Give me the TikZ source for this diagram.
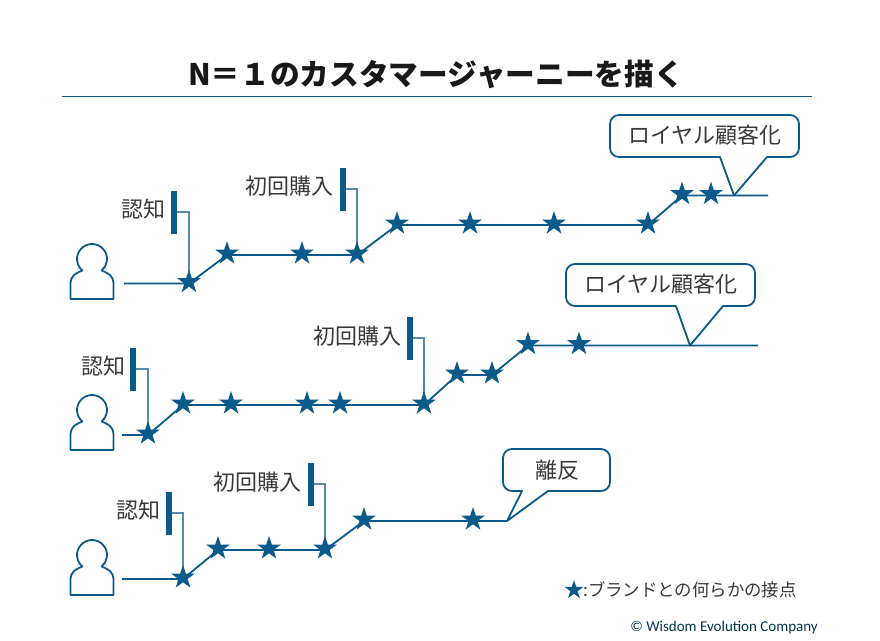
\documentclass[tikz,border=0pt]{standalone}
\usepackage{fontspec}
\setmainfont{Noto Sans CJK JP}
\newfontfamily\latinf{Carlito}
\usetikzlibrary{shapes.geometric}
\definecolor{jblue}{HTML}{0B5A8C}
\definecolor{jtext}{HTML}{3A3A3A}
\tikzset{
  jline/.style={draw=jblue,line width=1.8pt},
  jstar/.style={star,star points=5,star point ratio=2.618,fill=jblue,draw=none,minimum size=25pt,inner sep=0pt,yshift=1.5pt},
  jbar/.style={fill=jblue,draw=none,minimum width=6pt,minimum height=43pt,inner sep=0pt},
  jlead/.style={draw=jblue!70!white,line width=1.2pt},
  jlabel/.style={text=jtext,font=\fontsize{22}{26}\selectfont,inner sep=0pt,anchor=east},
  jcall/.style={draw=jblue,line width=1.8pt,fill=white,line join=round},
  jtxt/.style={text=jtext,font=\fontsize{22}{26}\selectfont,inner sep=0pt},
  jperson/.style={draw=jblue,line width=1.8pt,line join=round}
}
\newcommand{\jpers}[2]{%
  \draw[jperson,shift={(#1,#2)}] (-9.6,11.5) arc[start angle=130,end angle=410,radius=15]
    .. controls (16,14) and (21.5,16.5) .. (21.5,25) -- (21.5,40) -- (-21.5,40) -- (-21.5,25)
    .. controls (-21.5,16.5) and (-16,14) .. (-9.6,11.5) -- cycle;}
\newcommand{\jbub}[8]{% name, x1,y1,x2,y2, tail-left, tip-name, tail-right
  \draw[jcall] (#2+9,#3) -- (#4-9,#3) arc[start angle=270,end angle=360,radius=9]
    -- (#4,#5-9) arc[start angle=0,end angle=90,radius=9]
    -- (#8,#5) -- (#7) -- (#6,#5) -- (#2+9,#5) arc[start angle=90,end angle=180,radius=9]
    -- (#2,#3+9) arc[start angle=180,end angle=270,radius=9] -- cycle;
  \coordinate (#1) at ({(#2+#4)/2},{(#3+#5)/2});}
\begin{document}
\begin{tikzpicture}[x=1pt,y=-1pt]
\useasboundingbox (0,0) rectangle (880,640);
\fill[white] (0,0) rectangle (880,640);
% title
\node[inner sep=0pt,text=black!90,font=\fontsize{29.7}{34}\selectfont\bfseries] (title) at (436,74) {N＝１のカスタマージャーニーを描く};
\coordinate (ruleL) at (62,96.5);
\coordinate (ruleR) at (812,96.5);
\draw[draw=jblue,line width=1.8pt] (ruleL) -- (ruleR);
% coordinates
\foreach \n/\x/\y in {
 a0/124/283.5,a1/189/283.5,a2/227/255,a3/302/255,a4/357/255,a5/397/225,a6/470/225,a7/554/225,a8/648/225,a9/682/195.5,a10/711/195.5,a11/768/195.5,
 b0/122/435,b1/148/435,b2/183/405,b3/231/405,b4/307/405,b5/340/405,b6/424/405,b7/457/375,b8/492/375,b9/528/345.5,b10/579/345.5,b11/758/345.5,
 c0/122/579,c1/183/579,c2/218/550,c3/269/550,c4/325/550,c5/364/521,c6/473/521,c7/507/521}
 {\coordinate (\n) at (\x,\y);}
% person icons
\jpers{92}{259}
\jpers{92}{410}
\jpers{92}{555}
% journey lines
\draw[jline] (a0) -- (a1) -- (a2) -- (a3) -- (a4) -- (a5) -- (a6) -- (a7) -- (a8) -- (a9) -- (a10) -- (a11);
\draw[jline] (b0) -- (b1) -- (b2) -- (b3) -- (b4) -- (b5) -- (b6) -- (b7) -- (b8) -- (b9) -- (b10) -- (b11);
\draw[jline] (c0) -- (c1) -- (c2) -- (c3) -- (c4) -- (c5) -- (c6) -- (c7);
% bars
\node[jbar] (ba1) at (174,212) {};
\node[jbar] (ba2) at (343,189) {};
\node[jbar] (bb1) at (133,369) {};
\node[jbar] (bb2) at (410,338) {};
\node[jbar] (bc1) at (169,513) {};
\node[jbar] (bc2) at (311,484) {};
% leaders
\draw[jlead] (ba1.east) -| (a1);
\draw[jlead] (ba2.east) -| (a4);
\draw[jlead] (bb1.east) -| (b1);
\draw[jlead] (bb2.east) -| (b6);
\draw[jlead] (bc1.east) -| (c1);
\draw[jlead] (bc2.east) -| (c4);
% stars
\foreach \n in {a1,a2,a3,a4,a5,a6,a7,a8,a9,a10,b1,b2,b3,b4,b5,b6,b7,b8,b9,b10,c1,c2,c3,c4,c5,c6}
 {\node[jstar] (s\n) at (\n) {};}
% labels
\node[jlabel] (la1) at (166,209) {認知};
\node[jlabel] (la2) at (334,186) {初回購入};
\node[jlabel] (lb1) at (126,366) {認知};
\node[jlabel] (lb2) at (402,336) {初回購入};
\node[jlabel] (lc1) at (161,510) {認知};
\node[jlabel] (lc2) at (302,482) {初回購入};
% callouts
\coordinate (t1) at (734,195.5);
\coordinate (t2) at (690,345.5);
\coordinate (t3) at (507,521);
\jbub{k1}{610}{115}{799}{157}{720}{t1}{767}
\jbub{k2}{566}{264}{755}{306}{676}{t2}{723}
\jbub{k3}{503}{449}{610}{491}{522}{t3}{548}
\node[jtxt] (n1) at (705,135) {ロイヤル顧客化};
\node[jtxt] (n2) at (661,284) {ロイヤル顧客化};
\node[jtxt] (n3) at (557,470) {離反};
% legend
\node[star,star points=5,star point ratio=2.618,fill=jblue,minimum size=20pt,inner sep=0pt] (ls) at (574,590) {};
\node[anchor=west,inner sep=0pt,text=jtext,font=\fontsize{17.4}{21}\selectfont] (lt) at (583,590) {:ブランドとの何らかの接点};
\node[anchor=east,inner sep=0pt,text=jblue!60!black,font=\latinf\fontsize{15}{18}\selectfont] (cp) at (818,627) {© Wisdom Evolution Company};
\end{tikzpicture}
\end{document}
